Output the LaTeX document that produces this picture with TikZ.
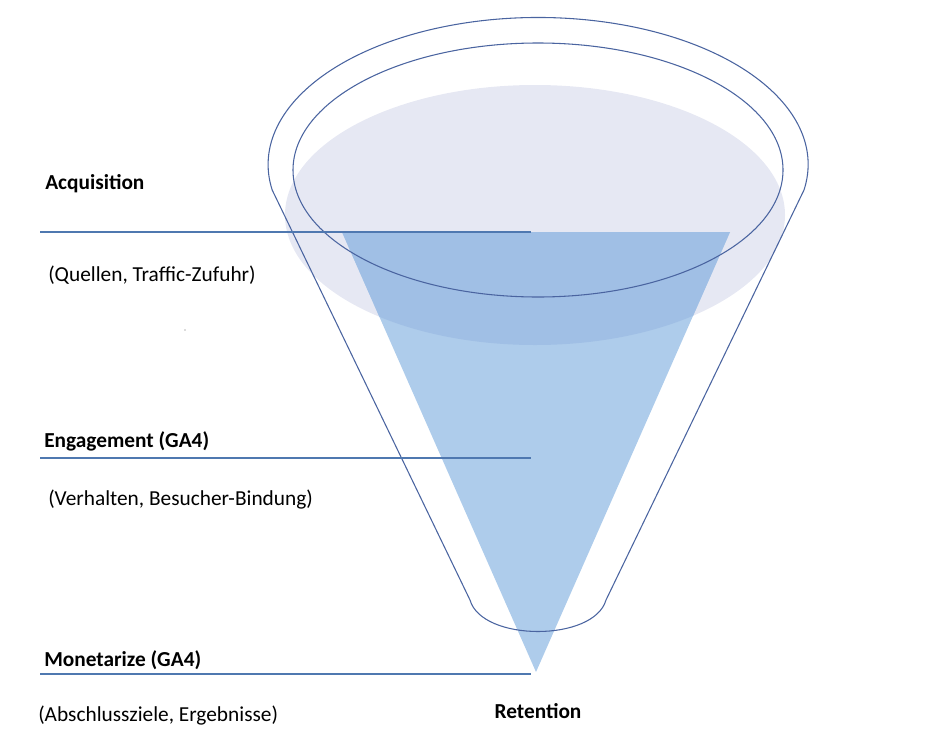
\documentclass[tikz,border=0pt]{standalone}
\usepackage{fontspec}
\setmainfont{Carlito}
\begin{document}
\begin{tikzpicture}[x=0.75pt,y=-0.75pt,
  ol/.style={draw=funline,line width=0.8pt},
  hl/.style={draw=hline,line width=0.8pt},
  lab/.style={anchor=west,inner sep=0pt,font=\fontsize{16}{19}\selectfont\bfseries},
  sub/.style={anchor=west,inner sep=0pt,font=\fontsize{16}{19}\selectfont}]
\definecolor{funline}{HTML}{4A64A0}
\definecolor{hline}{HTML}{4F78B0}
\definecolor{pale}{HTML}{E6E8F3}
\definecolor{tri}{HTML}{AECCEB}
\definecolor{tridark}{HTML}{A0BFE5}
\useasboundingbox (0,0) rectangle (935,750);
% pale ellipse
\fill[pale] (535,215) ellipse [x radius=250, y radius=130];
% triangle
\fill[tri] (342,232) -- (730,232) -- (536,672) -- cycle;
\begin{scope}
\clip (535,215) ellipse [x radius=250, y radius=130];
\fill[tridark] (342,232) -- (730,232) -- (536,672) -- cycle;
\end{scope}
% inner ellipse
\draw[ol] (538,170) ellipse [x radius=245, y radius=127];
% outer funnel
\draw[ol] (606,600) -- (804,190) arc[start angle=10, end angle=-190, x radius=270, y radius=147] coordinate (lt) -- (470,600)
  .. controls (482,642) and (594,642) .. (606,600);
% lines
\coordinate (a1) at (40,232); \coordinate (a2) at (531,232);
\coordinate (b1) at (40,458); \coordinate (b2) at (531,458);
\coordinate (c1) at (40,674); \coordinate (c2) at (531,674);
\draw[hl] (a1) -- (a2);
\draw[hl] (b1) -- (b2);
\draw[hl] (c1) -- (c2);
% texts
\node[lab] (t1) at (45,184) {Acquisition};
\node[sub] (t2) at (48,275) {(Quellen, Traffic-Zufuhr)};
\node[lab] (t3) at (44,441) {Engagement (GA4)};
\node[sub] (t4) at (48,500) {(Verhalten, Besucher-Bindung)};
\node[lab] (t5) at (44,660) {Monetarize (GA4)};
\node[sub] (t6) at (38,716) {(Abschlussziele, Ergebnisse)};
\node[lab,anchor=center] (t7) at (538,711) {Retention};
\fill[black!60] (185,330) circle (0.6);
\end{tikzpicture}
\end{document}
